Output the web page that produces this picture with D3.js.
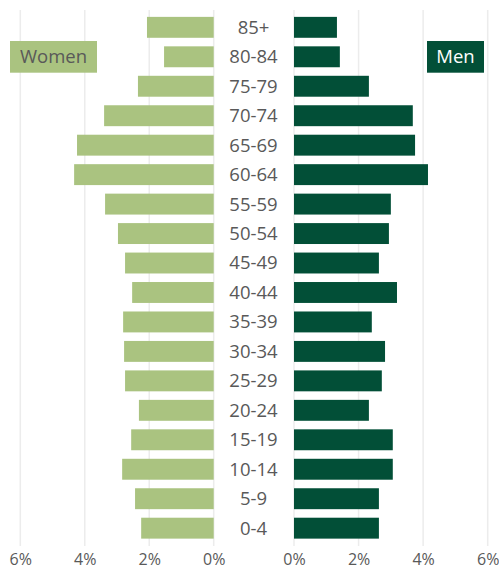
<!DOCTYPE html>
<html>
<head>
<meta charset="utf-8">
<script src="https://cdn.jsdelivr.net/npm/d3@7"></script>
<style>
  body { margin: 0; background: #fff; }
  text { font-family: "Open Sans", sans-serif; }
</style>
</head>
<body>
<div id="chart"></div>
<script>
const ageGroups = ["85+", "80-84", "75-79", "70-74", "65-69", "60-64", "55-59", "50-54", "45-49",
    "40-44", "35-39", "30-34", "25-29", "20-24", "15-19", "10-14", "5-9", "0-4"];
const women = [2.07, 1.54, 2.35, 3.40, 4.24, 4.33, 3.37, 2.97, 2.75,
    2.53, 2.81, 2.78, 2.75, 2.32, 2.56, 2.84, 2.44, 2.25];
const men = [1.33, 1.42, 2.32, 3.68, 3.75, 4.15, 3.00, 2.94, 2.63,
    3.19, 2.41, 2.82, 2.72, 2.32, 3.06, 3.06, 2.63, 2.63];
const tickValues = [0, 2, 4, 6];

const width = 499;
const height = 570;
const womenColor = "#aac380";
const menColor = "#024f37";
const textColor = "#595959";

const svg = d3.select("#chart")
    .append("svg")
    .attr("width", width)
    .attr("height", height);

// 两侧的x比例尺
const xLeft = d3.scaleLinear().domain([0, 6]).range([213.7, 20.3]);
const xRight = d3.scaleLinear().domain([0, 6]).range([294, 487.7]);

const y = d3.scaleBand()
    .domain(ageGroups)
    .range([12.6, 542.9])
    .paddingInner(0.29)
    .paddingOuter(0.145);

const gridTop = 10, gridBottom = 546;

// 网格线
[xLeft, xRight].forEach(x => {
    svg.append("g")
        .selectAll("line")
        .data(tickValues)
        .enter()
        .append("line")
        .attr("x1", d => x(d))
        .attr("x2", d => x(d))
        .attr("y1", gridTop)
        .attr("y2", gridBottom)
        .attr("stroke", "#ececec")
        .attr("stroke-width", 1.5);
});

// 女性
svg.append("g")
    .selectAll("rect")
    .data(women)
    .enter()
    .append("rect")
    .attr("x", d => xLeft(d))
    .attr("y", (d, i) => y(ageGroups[i]))
    .attr("width", d => xLeft(0) - xLeft(d))
    .attr("height", y.bandwidth())
    .attr("fill", womenColor);

// 男性
svg.append("g")
    .selectAll("rect")
    .data(men)
    .enter()
    .append("rect")
    .attr("x", xRight(0))
    .attr("y", (d, i) => y(ageGroups[i]))
    .attr("width", d => xRight(d) - xRight(0))
    .attr("height", y.bandwidth())
    .attr("fill", menColor);

// 年龄组标签
svg.append("g")
    .selectAll("text")
    .data(ageGroups)
    .enter()
    .append("text")
    .attr("x", 253.5)
    .attr("y", d => y(d) + y.bandwidth() / 2)
    .attr("dy", "0.35em")
    .attr("text-anchor", "middle")
    .style("font-size", "18.5px")
    .style("fill", textColor)
    .text(d => d);

// x轴
const fmt = d => d + "%";
[xLeft, xRight].forEach(x => {
    const axis = svg.append("g")
        .attr("transform", `translate(0,${gridBottom + 8})`)
        .call(d3.axisBottom(x).tickValues(tickValues).tickFormat(fmt).tickSize(0).tickPadding(0));
    axis.select(".domain").remove();
    axis.selectAll("text")
        .attr("dy", "0.71em")
        .style("font-family", "'Open Sans', sans-serif")
        .style("font-size", "16px")
        .style("fill", textColor);
});

// 图例
function legendBox(x0, x1, label, fill, color) {
    svg.append("rect")
        .attr("x", x0)
        .attr("y", 41)
        .attr("width", x1 - x0)
        .attr("height", 31.7)
        .attr("fill", fill);
    svg.append("text")
        .attr("x", (x0 + x1) / 2)
        .attr("y", 56.3)
        .attr("dy", "0.35em")
        .attr("text-anchor", "middle")
        .style("font-size", "18.5px")
        .style("fill", color)
        .text(label);
}
legendBox(10, 97, "Women", womenColor, textColor);
legendBox(427, 484, "Men", menColor, "#ffffff");
</script>
</body>
</html>
